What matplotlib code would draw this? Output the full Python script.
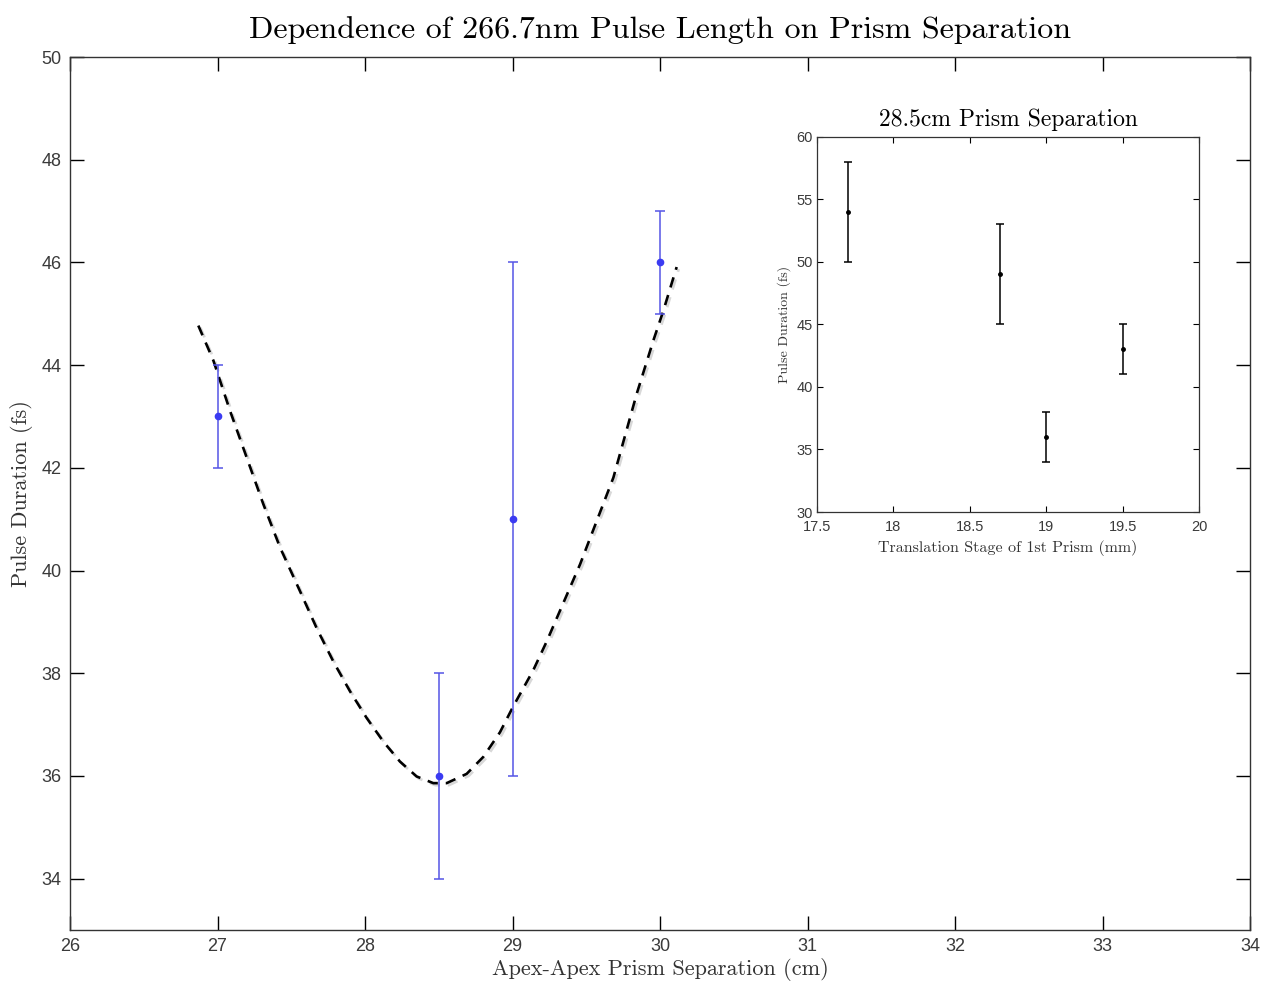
import matplotlib
matplotlib.use("Agg")
import matplotlib.pyplot as plt
import matplotlib.patheffects as pe

# Main data
sep_cm = [27.0, 28.5, 29.0, 30.0]
pulse_fs = [43, 36, 41, 46]
pulse_err = [1, 2, 5, 1]

# Dashed fit curve
fit_x = [26.870, 26.972, 27.085, 27.198, 27.311, 27.424, 27.559, 27.672, 27.785,
         27.898, 28.011, 28.124, 28.237, 28.350, 28.463, 28.554, 28.689, 28.802,
         28.915, 29.006, 29.141, 29.232, 29.458, 29.684, 29.842, 29.955, 30.023, 30.113]
fit_y = [44.77, 44.09, 43.11, 42.20, 41.29, 40.45, 39.60, 38.88, 38.23,
         37.65, 37.13, 36.67, 36.28, 35.99, 35.86, 35.86, 36.04, 36.37,
         36.85, 37.36, 38.06, 38.62, 40.12, 41.81, 43.44, 44.48, 45.06, 45.91]

# Inset data
stage_mm = [17.7, 18.7, 19.0, 19.5]
inset_fs = [54, 49, 36, 43]
inset_err = [4, 4, 2, 2]

main_xticks = [26, 27, 28, 29, 30, 31, 32, 33, 34]
main_yticks = [34, 36, 38, 40, 42, 44, 46, 48, 50]
inset_xticks = [17.5, 18, 18.5, 19, 19.5, 20]
inset_xticklabels = ["17.5", "18", "18.5", "19", "19.5", "20"]
inset_yticks = [30, 35, 40, 45, 50, 55, 60]

serif = "cmr10"
sans = "Liberation Sans"
tick_color = "#3a3a3a"

fig = plt.figure(figsize=(12.64, 9.82), dpi=100)
ax = fig.add_axes([70/1264, 1-930/982, 1180/1264, 873/982])

blue = "#3b3bf2"
ax.errorbar(sep_cm, pulse_fs, yerr=pulse_err, fmt='o', color=blue, ecolor="#5555e6",
            ms=4.5, elinewidth=1.1, capsize=3.5, capthick=1.1, zorder=3)
ax.plot(fit_x, fit_y, linestyle=(0, (4, 3)), color='black', lw=1.9, zorder=2,
        solid_joinstyle='round',
        path_effects=[pe.SimpleLineShadow(offset=(1.5, -1.5), shadow_color='gray', alpha=0.3), pe.Normal()])

ax.set_xlim(26, 34)
ax.set_ylim(33, 50)
ax.set_xticks(main_xticks)
ax.set_yticks(main_yticks)
ax.tick_params(direction='in', length=10, width=1, top=True, right=True,
               labelsize=13, labelcolor=tick_color, pad=6)
for lab in ax.get_xticklabels() + ax.get_yticklabels():
    lab.set_family(sans)
for s in ax.spines.values():
    s.set_color('#333333')
    s.set_linewidth(1.0)

ax.set_title("Dependence of 266.7nm Pulse Length on Prism Separation",
             fontfamily=serif, fontsize=23, pad=14)
ax.set_xlabel("Apex-Apex Prism Separation (cm)", fontfamily=serif, fontsize=16,
              color='#333333', labelpad=2)
ax.set_ylabel("Pulse Duration (fs)", fontfamily=serif, fontsize=16,
              color='#333333', labelpad=6)

# Inset
axi = fig.add_axes([817/1264, 1-512/982, 382/1264, 375/982])
axi.errorbar(stage_mm, inset_fs, yerr=inset_err, fmt='o', color='black', ms=2.5,
             elinewidth=1.1, capsize=2.8, capthick=1.1)
axi.set_xlim(17.5, 20)
axi.set_ylim(30, 60)
axi.set_xticks(inset_xticks)
axi.set_xticklabels(inset_xticklabels)
axi.set_yticks(inset_yticks)
axi.tick_params(direction='in', length=4, width=0.8, top=True, right=True,
                labelsize=10.5, labelcolor=tick_color, pad=3)
axi.tick_params(axis='x', pad=6)
for lab in axi.get_xticklabels() + axi.get_yticklabels():
    lab.set_family(sans)
for s in axi.spines.values():
    s.set_color('#333333')
    s.set_linewidth(0.9)
axi.set_title("28.5cm Prism Separation", fontfamily=serif, fontsize=17, pad=8)
axi.set_xlabel("Translation Stage of 1st Prism (mm)", fontfamily=serif, fontsize=11.5,
               color='#333333', labelpad=4)
axi.set_ylabel("Pulse Duration (fs)", fontfamily=serif, fontsize=10,
               color='#333333', labelpad=4)

fig.savefig("out.png", dpi=100)
